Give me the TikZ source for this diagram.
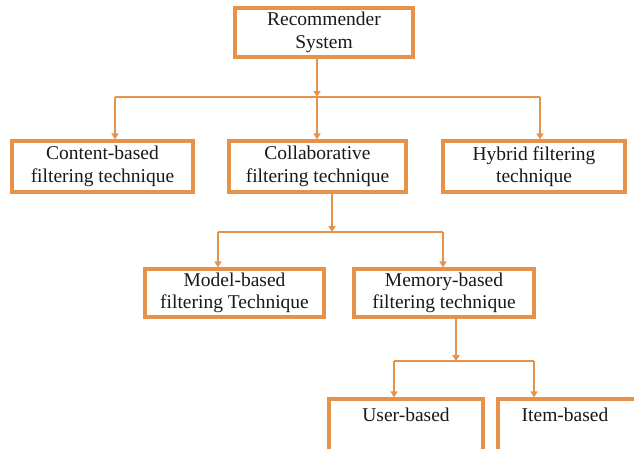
\documentclass[tikz,border=0pt]{standalone}
\usepackage{fontspec}
\setmainfont{Liberation Serif}
\usetikzlibrary{arrows.meta}
\definecolor{org}{RGB}{230,146,72}
\begin{document}
\begin{tikzpicture}[x=1pt,y=1pt,
  box/.style={draw=org,line width=3.2pt,fill=white,inner sep=0pt,align=center,
    font=\fontsize{19.5}{22.5}\selectfont,text=black!90},
  conn/.style={draw=org,line width=2.4pt,-{Triangle[width=7pt,length=6pt]}},
  link/.style={draw=org,line width=2.4pt}]
\useasboundingbox (0,0) rectangle (634,-448);
\clip (0,0) rectangle (634,-448);
\node[box,minimum width=178,minimum height=49] (rs) at (324,-32.5) {Recommender\\System};
\node[box,minimum width=181,minimum height=51] (cb) at (102.5,-166.5) {Content-based\\filtering technique};
\node[box,minimum width=177,minimum height=51] (cf) at (317.5,-166.5) {Collaborative\\filtering technique};
\node[box,minimum width=182,minimum height=51] (hf) at (534,-166.5) {Hybrid filtering\\technique};
\node[box,minimum width=179,minimum height=48] (mb) at (234.5,-293) {Model-based\\filtering Technique};
\node[box,minimum width=180,minimum height=48] (mem) at (444,-293) {Memory-based\\filtering technique};
\node[box,minimum width=154,minimum height=62] (ub) at (406,-430) {};
\node[box,minimum width=154,minimum height=62] (ib) at (575,-430) {};
\node[font=\fontsize{19.5}{22.5}\selectfont,text=black!90] (ubt) at (406,-415) {User-based};
\node[font=\fontsize{19.5}{22.5}\selectfont,text=black!90] (ibt) at (565,-415) {Item-based};
% level 1
\coordinate (j1) at (317,-97);
\coordinate (a1) at (115,-97);
\coordinate (a3) at (540,-97);
\draw[conn] (j1 |- rs.south) -- (j1);
\draw[link] (a1) -- (a3);
\draw[conn] (a1) -- (a1 |- cb.north);
\draw[conn] (j1) -- (j1 |- cf.north);
\draw[conn] (a3) -- (a3 |- hf.north);
% level 2
\coordinate (j2) at (332,-232);
\coordinate (b1) at (218,-232);
\coordinate (b2) at (443,-232);
\draw[conn] (j2 |- cf.south) -- (j2);
\draw[link] (b1) -- (b2);
\draw[conn] (b1) -- (b1 |- mb.north);
\draw[conn] (b2) -- (b2 |- mem.north);
% level 3
\coordinate (j3) at (456,-361);
\coordinate (c1) at (394,-361);
\coordinate (c2) at (534,-361);
\draw[conn] (j3 |- mem.south) -- (j3);
\draw[link] (c1) -- (c2);
\draw[conn] (c1) -- (c1 |- ub.north);
\draw[conn] (c2) -- (c2 |- ib.north);
\end{tikzpicture}
\end{document}
